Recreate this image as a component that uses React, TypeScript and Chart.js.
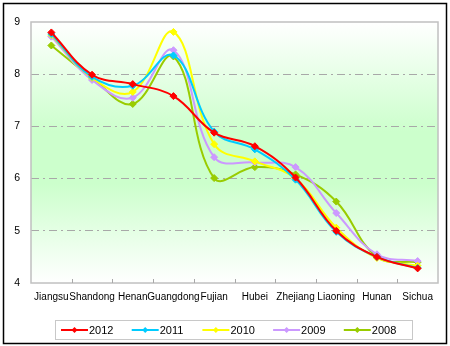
import { useEffect, useRef } from "react";
import { Chart, registerables } from "chart.js";
Chart.register(...registerables);

const categories = ["Jiangsu", "Shandong", "Henan", "Guangdong", "Fujian", "Hubei", "Zhejiang", "Liaoning", "Hunan", "Sichua"];
const years = ["2012", "2011", "2010", "2009", "2008"];
const v2012 = [8.8, 7.99, 7.81, 7.58, 6.88, 6.62, 6.02, 5.0, 4.5, 4.28];
const v2011 = [8.77, 7.95, 7.78, 8.36, 6.9, 6.56, 5.98, 4.98, 4.5, 4.29];
const v2010 = [8.75, 7.93, 7.66, 8.81, 6.66, 6.33, 6.0, 5.06, 4.48, 4.33];
const v2009 = [8.72, 7.89, 7.55, 8.46, 6.41, 6.31, 6.22, 5.34, 4.55, 4.42];
const v2008 = [8.55, 7.93, 7.43, 8.34, 6.01, 6.22, 6.08, 5.56, 4.5, 4.4];
const seriesValues = [v2012, v2011, v2010, v2009, v2008];
const colors = ["#ff0000", "#00ccff", "#ffff00", "#cc99ff", "#99cc00"];
const yMin = 4;
const yMax = 9;
const yStep = 1;

const FONT = "'Liberation Sans', Arial, sans-serif";

export default function App() {
  const ref = useRef<HTMLCanvasElement>(null);
  useEffect(() => {
    document.body.style.margin = "0";
    const canvas = ref.current;
    if (!canvas) return;

    const bgPlugin = {
      id: "bgPlugin",
      beforeDraw(chart: any) {
        const { ctx, chartArea: a } = chart;
        ctx.save();
        ctx.fillStyle = "#ffffff";
        ctx.fillRect(0, 0, chart.width, chart.height);
        const g = ctx.createLinearGradient(0, a.top, 0, a.bottom);
        g.addColorStop(0, "#ffffff");
        g.addColorStop(0.42, "#ccffcc");
        g.addColorStop(0.62, "#ccffcc");
        g.addColorStop(1, "#ffffff");
        ctx.fillStyle = g;
        ctx.fillRect(a.left, a.top, a.right - a.left, a.bottom - a.top);
        ctx.restore();
      },
      beforeDatasetsDraw(chart: any) {
        const { ctx, chartArea: a } = chart;
        ctx.save();
        ctx.strokeStyle = "#c0c0c0";
        ctx.lineWidth = 1.5;
        ctx.strokeRect(a.left, a.top, a.right - a.left, a.bottom - a.top);
        const n = chart.data.labels.length;
        const w = (a.right - a.left) / n;
        ctx.lineWidth = 1;
        ctx.strokeStyle = "#a8a8a8";
        for (let i = 1; i < n; i++) {
          const x = Math.round(a.left + i * w) + 0.5;
          ctx.beginPath();
          ctx.moveTo(x, a.bottom - 4);
          ctx.lineTo(x, a.bottom);
          ctx.stroke();
        }
        ctx.restore();
      },
      afterDraw(chart: any) {
        const { ctx } = chart;
        ctx.save();
        // outer frame
        ctx.strokeStyle = "#000000";
        ctx.lineWidth = 1.5;
        ctx.strokeRect(3.5, 3.5, 443, 340);
        // legend box
        ctx.strokeStyle = "#c8c8c8";
        ctx.lineWidth = 1;
        ctx.strokeRect(55.5, 320.5, 357, 19);
        ctx.font = `11px ${FONT}`;
        ctx.textBaseline = "middle";
        ctx.textAlign = "left";
        const y = 330;
        chart.data.datasets.forEach((ds: any, i: number) => {
          const x0 = 61 + i * 70.7;
          ctx.strokeStyle = ds.borderColor;
          ctx.lineWidth = 2;
          ctx.beginPath();
          ctx.moveTo(x0, y);
          ctx.lineTo(x0 + 27, y);
          ctx.stroke();
          const cx = x0 + 13.5;
          ctx.fillStyle = ds.borderColor;
          ctx.beginPath();
          ctx.moveTo(cx, y - 3);
          ctx.lineTo(cx + 3, y);
          ctx.lineTo(cx, y + 3);
          ctx.lineTo(cx - 3, y);
          ctx.closePath();
          ctx.fill();
          ctx.fillStyle = "#000000";
          ctx.fillText(ds.label, x0 + 28, y + 0.5);
        });
        ctx.restore();
      },
    };

    const chart = new Chart(canvas, {
      type: "line",
      data: {
        labels: categories,
        datasets: years.map((yr, i) => ({
          label: yr,
          data: seriesValues[i],
          borderColor: colors[i],
          backgroundColor: colors[i],
          borderWidth: 2,
          pointStyle: "rectRot",
          pointRadius: 3.5,
          pointBorderWidth: 1,
          pointBackgroundColor: colors[i],
          pointBorderColor: colors[i],
          tension: 0.4,
          fill: false,
        })),
      },
      options: {
        responsive: false,
        animation: false,
        layout: { padding: { top: 22, right: 12, bottom: 43, left: 0 } },
        plugins: {
          legend: { display: false },
          tooltip: { enabled: false },
        },
        scales: {
          x: {
            type: "category",
            offset: true,
            grid: { display: false, drawTicks: false },
            border: { display: false },
            ticks: {
              color: "#000000",
              font: { family: FONT, size: 10 },
              padding: 8,
              autoSkip: false,
              maxRotation: 0,
              minRotation: 0,
            },
            afterFit(scale: any) {
              scale.height = 20;
            },
          },
          y: {
            min: yMin,
            max: yMax,
            grid: {
              drawTicks: false,
              lineWidth: 1,
              color: (ctx: any) =>
                ctx.tick && (ctx.tick.value === yMin || ctx.tick.value === yMax)
                  ? "rgba(0,0,0,0)"
                  : "#a8a8a8",
            },
            border: { display: false, dash: [8, 4, 2, 4] },
            ticks: {
              stepSize: yStep,
              color: "#000000",
              font: { family: FONT, size: 10.5 },
              padding: 11,
            },
            afterFit(scale: any) {
              scale.width = 31;
            },
          },
        },
      },
      plugins: [bgPlugin],
    } as any);
    return () => chart.destroy();
  }, []);
  return (
    <div style={{ width: 450, height: 346 }}>
      <canvas ref={ref} width={450} height={346} style={{ display: "block" }} />
    </div>
  );
}
